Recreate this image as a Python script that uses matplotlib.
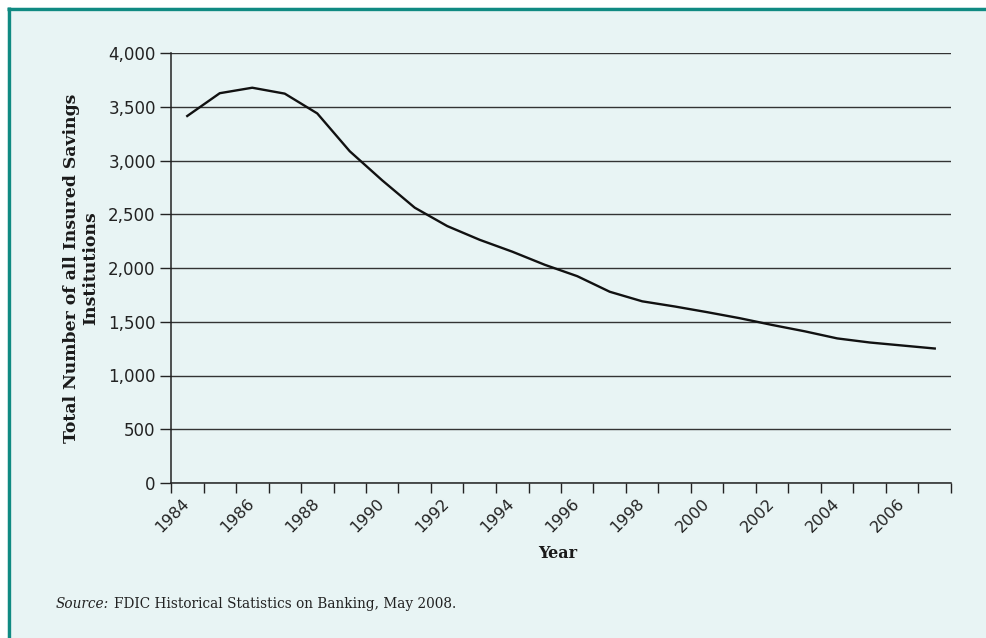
import matplotlib
matplotlib.use("Agg")
import matplotlib.pyplot as plt
import matplotlib.ticker as mticker
from matplotlib.patches import Rectangle
from matplotlib.lines import Line2D
import numpy as np


# DATA
years = [1984, 1985, 1986, 1987, 1988, 1989, 1990, 1991, 1992, 1993, 1994, 1995,
         1996, 1997, 1998, 1999, 2000, 2001, 2002, 2003, 2004, 2005, 2006, 2007]
institutions = [3414, 3626, 3677, 3622, 3438, 3086, 2815, 2561, 2390, 2262, 2152, 2030,
                1924, 1779, 1690, 1642, 1589, 1533, 1470, 1411, 1345, 1307, 1279, 1251]
year_labels = [str(y) for y in years[::2]]
y_ticks = [0, 500, 1000, 1500, 2000, 2500, 3000, 3500, 4000]

BG = "#e8f4f4"
FRAME = "#108a82"
TXT = "#222222"

fig = plt.figure(figsize=(9.86, 6.38), dpi=100)
fig.patch.set_facecolor("white")

# panel background with teal border on top and left only (kept behind the axes)
fig.patches.append(Rectangle((7 / 986, 0), 1, 1 - 7 / 638, transform=fig.transFigure,
                             facecolor=BG, edgecolor="none", zorder=-10))
fig.lines.append(Line2D([8.5 / 986, 8.5 / 986], [0, 1 - 7 / 638], transform=fig.transFigure,
                        color=FRAME, linewidth=2.4, solid_capstyle="butt", zorder=-9))
fig.lines.append(Line2D([7 / 986, 1], [1 - 8.5 / 638, 1 - 8.5 / 638], transform=fig.transFigure,
                        color=FRAME, linewidth=2.4, solid_capstyle="butt", zorder=-9))

ax = fig.add_axes([171 / 986, 1 - 483 / 638, (951 - 171) / 986, (483 - 53) / 638])
ax.patch.set_alpha(0)

x = np.arange(len(years))
ax.plot(x, institutions, color="#111111", linewidth=1.7, solid_joinstyle="round", zorder=3)

# category axis: ticks at the boundaries, labels at the centres
ax.set_xlim(-0.5, len(years) - 0.5)
ax.set_xticks(np.arange(-0.5, len(years)), labels=[])
ax.set_xticks(x[::2], labels=year_labels, minor=True)
ax.tick_params(axis="x", which="major", direction="out", length=7, width=1, color="#222222")
ax.tick_params(axis="x", which="minor", length=0, pad=13, labelsize=11.5, labelcolor=TXT)
for lbl in ax.get_xticklabels(minor=True):
    lbl.set_rotation(45)
    lbl.set_ha("right")
    lbl.set_va("center")
    lbl.set_rotation_mode("anchor")

ax.set_ylim(0, 4000)
ax.set_yticks(y_ticks)
ax.yaxis.set_major_formatter(mticker.StrMethodFormatter("{x:,.0f}"))
ax.tick_params(axis="y", direction="out", length=8, width=1, color="#222222",
               labelsize=12, labelcolor=TXT, pad=3)

ax.grid(axis="y", color="#333333", linewidth=1.0)
ax.set_axisbelow(True)
for side in ["top", "right"]:
    ax.spines[side].set_visible(False)
for side in ["left", "bottom"]:
    ax.spines[side].set_color("#222222")
    ax.spines[side].set_linewidth(1.1)

# titles
fig.text(81 / 986, 1 - 268 / 638, "Total Number of all Insured Savings\nInstitutions",
         rotation=90, ha="center", va="center", family="DejaVu Serif", fontweight="bold",
         fontsize=12.4, color="#1a1a1a", linespacing=1.15)
fig.text(558 / 986, 1 - 554 / 638, "Year", ha="center", va="center",
         family="DejaVu Serif", fontweight="bold", fontsize=11.5, color="#1a1a1a")

# source note
src = fig.text(56 / 986, 1 - 604 / 638, "Source:", ha="left", va="center",
               family="DejaVu Serif", style="italic", fontsize=9.8, color=TXT)
fig.canvas.draw()
bb = src.get_window_extent()
fig.text(bb.x1 / 986 + 5 / 986, 1 - 604 / 638, "FDIC Historical Statistics on Banking, May 2008.",
         ha="left", va="center", family="DejaVu Serif", fontsize=9.8, color=TXT)

plt.savefig("out.png", dpi=100, facecolor=fig.get_facecolor())
